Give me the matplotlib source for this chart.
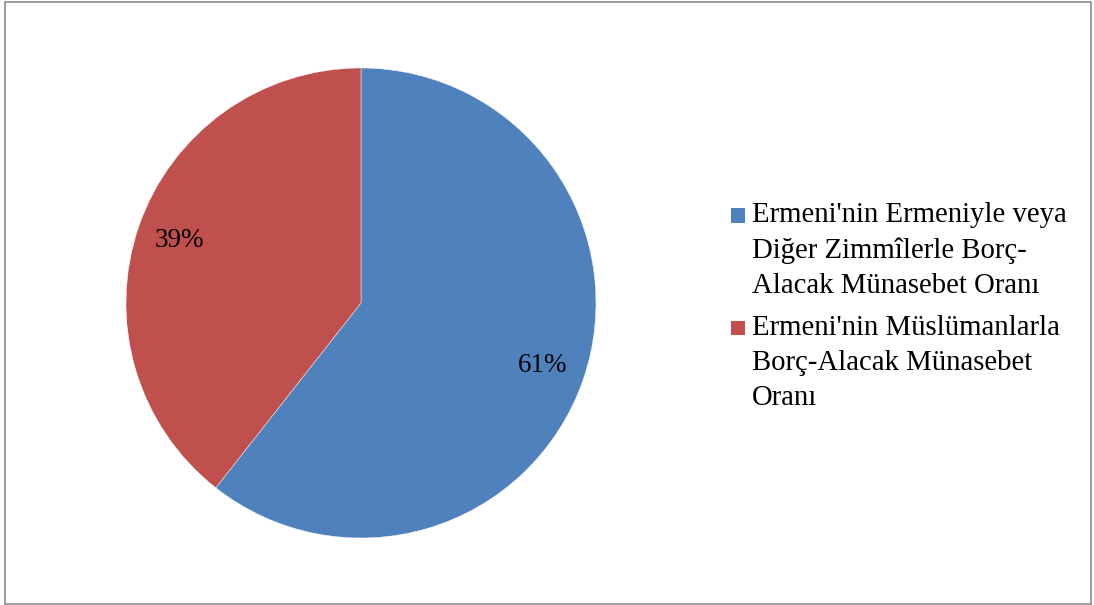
import matplotlib.pyplot as plt
from matplotlib.patches import Rectangle

# data (shares; labels round to 61% / 39%)
etiketler = ["Ermeni'nin Ermeniyle veya\nDiğer Zimmîlerle Borç-\nAlacak Münasebet Oranı",
             "Ermeni'nin Müslümanlarla\nBorç-Alacak Münasebet\nOranı"]
oranlar = [60.6, 39.4]
renkler = ['#4F81BD', '#C0504D']

plt.rcParams['font.family'] = ['Liberation Serif', 'DejaVu Serif']

W, H = 1094, 605
fig = plt.figure(figsize=(W / 100, H / 100), dpi=100)

# outer frame like the office chart area
fig.patches.append(Rectangle((5 / W, 1 / H), 1086 / W, 602 / H,
                             transform=fig.transFigure, fill=False,
                             edgecolor='#8c8c8c', linewidth=1.2))

ax = fig.add_axes([126 / W, 67 / H, 470 / W, 470 / H])
kamalar, _, yazilar = ax.pie(oranlar, colors=renkler, startangle=90,
                             counterclock=False, autopct='%1.0f%%',
                             pctdistance=0.82,
                             wedgeprops=dict(edgecolor='white', linewidth=0.3),
                             textprops=dict(fontsize=19.5, color='black'))
ax.set_xlim(-1, 1)
ax.set_ylim(-1, 1)
ax.set_aspect('equal')

# legend drawn by hand so the square sits on the first line like in office
satir = 35  # line pitch in pixels
for i, (etiket, renk) in enumerate(zip(etiketler, renkler)):
    taban = 223 + i * 112  # baseline of first line, pixels from top
    son = taban + (etiket.count('\n')) * satir  # baseline of last line
    fig.patches.append(Rectangle((731 / W, (H - taban) / H), 14 / W, 14.5 / H,
                                 transform=fig.transFigure, facecolor=renk,
                                 edgecolor='none'))
    fig.text(752 / W, (H - son) / H, etiket, fontsize=20.7, va='baseline',
             ha='left', linespacing=1.45)

fig.savefig('out.png', dpi=100)
